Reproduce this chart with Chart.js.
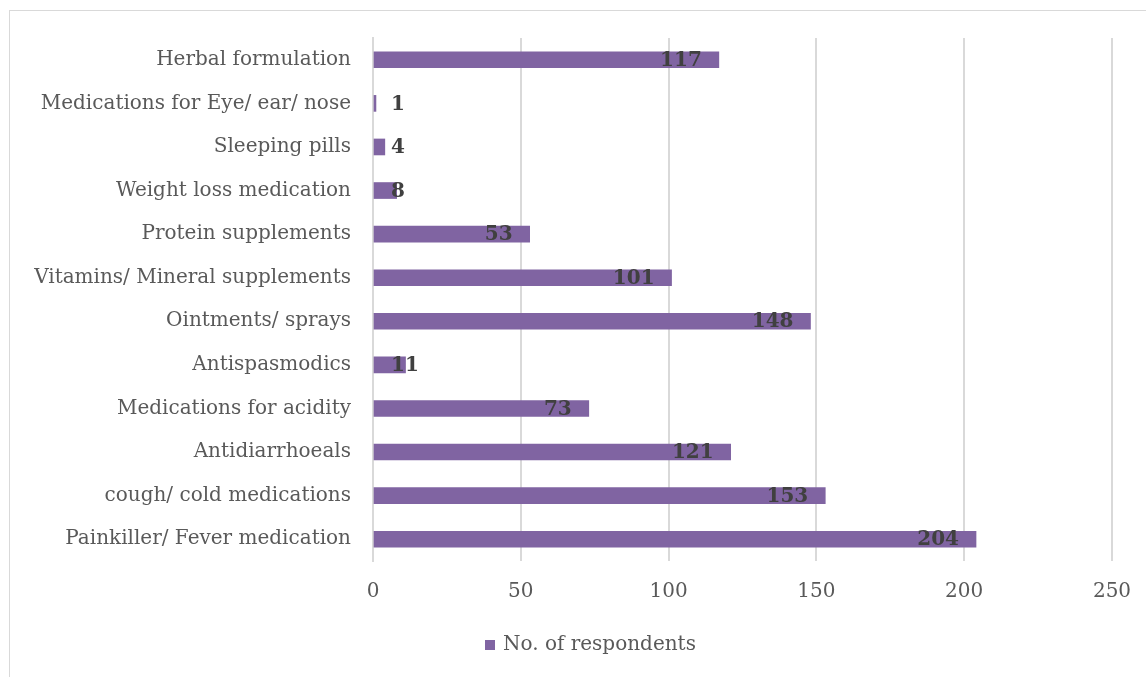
<!DOCTYPE html>
<html lang="en">
<head>
    <meta charset="UTF-8">
    <title>No. of respondents</title>
    <style>
        html, body {
            margin: 0;
            padding: 0;
            overflow: hidden;
            background: #fff;
        }
        .frame {
            position: absolute;
            left: 9px;
            top: 10px;
            width: 1160px;
            height: 700px;
            border: 1px solid #d9d9d9;
        }
        canvas {
            display: block;
        }
    </style>
</head>
<body>
    <div class="frame">
        <canvas id="chart" width="1160" height="666"></canvas>
    </div>

    <script src="https://cdn.jsdelivr.net/npm/chart.js"></script>
    <script>
        const categories = [
            'Herbal formulation',
            'Medications for Eye/ ear/ nose',
            'Sleeping pills',
            'Weight loss medication',
            'Protein supplements',
            'Vitamins/ Mineral supplements',
            'Ointments/ sprays',
            'Antispasmodics',
            'Medications for acidity',
            'Antidiarrhoeals',
            'cough/ cold medications',
            'Painkiller/ Fever medication'
        ];
        const respondents = [117, 1, 4, 8, 53, 101, 148, 11, 73, 121, 153, 204];
        const xTicks = [0, 50, 100, 150, 200, 250];

        const FONT = "'DejaVu Serif', serif";
        const BAR_COLOR = '#8064a2';

        // value labels, right-aligned near the bar end (like Excel "inside end")
        const valueLabels = {
            id: 'valueLabels',
            afterDatasetsDraw(chart) {
                const ctx = chart.ctx;
                const meta = chart.getDatasetMeta(0);
                ctx.save();
                ctx.font = 'bold 20px ' + FONT;
                ctx.fillStyle = '#404040';
                ctx.textBaseline = 'middle';
                ctx.textAlign = 'left';
                meta.data.forEach((bar, i) => {
                    const text = String(respondents[i]);
                    const w = ctx.measureText(text).width;
                    const x = Math.max(bar.base + 17, bar.x - 17 - w);
                    ctx.fillText(text, x, bar.y + 1);
                });
                ctx.restore();
            }
        };

        // legend centred on the whole chart box, under the x axis
        const bottomLegend = {
            id: 'bottomLegend',
            afterDraw(chart) {
                const ctx = chart.ctx;
                const ds = chart.data.datasets[0];
                ctx.save();
                ctx.font = '20px ' + FONT;
                const tw = ctx.measureText(ds.label).width;
                const total = 10 + 8 + tw;
                const x0 = Math.round(chart.width / 2 - total / 2);
                const y = chart.scales.x.bottom + 23;
                ctx.fillStyle = ds.backgroundColor;
                ctx.fillRect(x0, y - 5, 10, 10);
                ctx.fillStyle = '#595959';
                ctx.textBaseline = 'middle';
                ctx.textAlign = 'left';
                ctx.fillText(ds.label, x0 + 18, y);
                ctx.restore();
            }
        };

        new Chart(document.getElementById('chart'), {
            type: 'bar',
            data: {
                labels: categories,
                datasets: [{
                    label: 'No. of respondents',
                    data: respondents,
                    backgroundColor: BAR_COLOR,
                    borderWidth: 0,
                    barThickness: 16
                }]
            },
            options: {
                indexAxis: 'y',
                responsive: false,
                animation: false,
                layout: {
                    padding: { top: 27, right: 58, bottom: 55, left: 0 }
                },
                plugins: {
                    tooltip: { enabled: false },
                    legend: { display: false }
                },
                scales: {
                    x: {
                        min: 0,
                        max: 250,
                        afterBuildTicks(scale) {
                            scale.ticks = xTicks.map(v => ({ value: v }));
                        },
                        grid: {
                            color: '#d9d9d9',
                            lineWidth: 2,
                            drawTicks: false
                        },
                        border: { display: false },
                        ticks: {
                            color: '#595959',
                            font: { family: FONT, size: 20 },
                            padding: 19
                        },
                        afterFit(scale) {
                            scale.height = 61;
                        }
                    },
                    y: {
                        grid: { display: false, drawTicks: false },
                        border: { display: true, color: '#d9d9d9', width: 2 },
                        ticks: {
                            color: '#595959',
                            font: { family: FONT, size: 20 },
                            padding: 22,
                            autoSkip: false
                        },
                        afterFit(scale) {
                            scale.width = 363;
                            scale.paddingTop = 0;
                            scale.paddingBottom = 0;
                        }
                    }
                }
            },
            plugins: [valueLabels, bottomLegend]
        });
    </script>
</body>
</html>
